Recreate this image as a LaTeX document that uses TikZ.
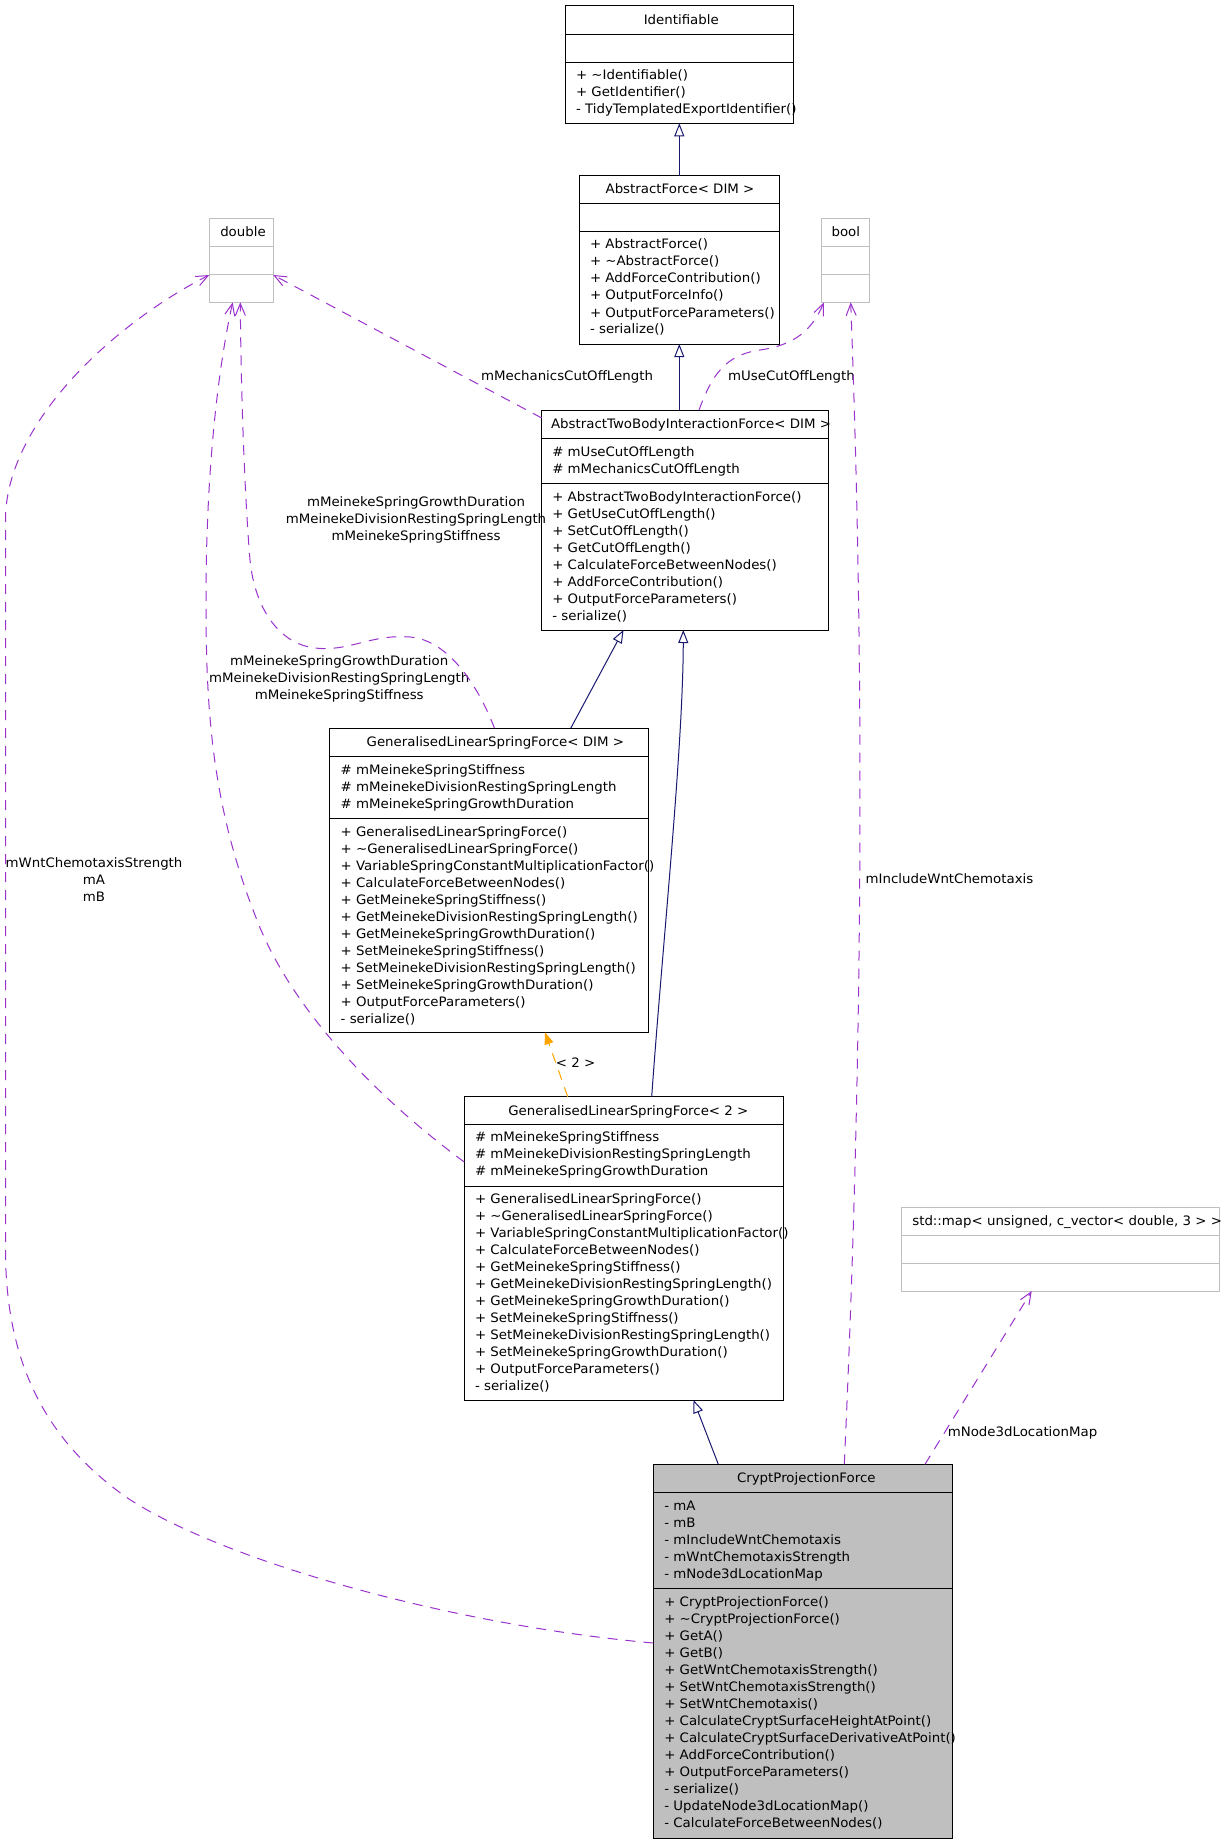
\documentclass[tikz,border=0pt]{standalone}
\usepackage{fontspec}
\setmainfont{DejaVu Sans}[FakeStretch=1.027]
\usetikzlibrary{arrows.meta}
\definecolor{navyc}{HTML}{191970}
\definecolor{purp}{HTML}{9A32CD}
\definecolor{orng}{HTML}{FFA500}
\definecolor{boxgray}{HTML}{BFBFBF}
\newcommand\fs{\fontsize{13}{17}\selectfont}
\newcommand\tld{\textasciitilde}
% name, x1, y1, x2, y2, divider1, divider2, style, divider colour
\newcommand\classbox[9]{%
  \node[#8, minimum width={#4pt-#2pt}, minimum height={#5pt-#3pt}] (#1) at (#2,#3) {};
  \draw[draw=#9, line width=1pt] (#2,#6) -- (#4,#6);
  \draw[draw=#9, line width=1pt] (#2,#7) -- (#4,#7);
}
% name, x, first baseline, list
\newcommand\linelist[4]{%
  \foreach \itm [count=\i] in {#4} {
    \node[txt, name=#1-\i] at (#2, {#3+17*(\i-1)}) {\itm};
  }
}
\begin{document}
\begin{tikzpicture}[x=1pt, y=-1pt,
  box/.style={draw=black, line width=1pt, inner sep=0pt, outer sep=0pt, anchor=north west},
  gbox/.style={draw=boxgray, line width=1pt, inner sep=0pt, outer sep=0pt, anchor=north west},
  cbox/.style={draw=black, fill=boxgray, line width=1pt, inner sep=0pt, outer sep=0pt, anchor=north west},
  txt/.style={inner sep=0pt, outer sep=0pt, font=\fs, anchor=base west},
  ttl/.style={inner sep=0pt, outer sep=0pt, font=\fs, anchor=base},
  lbl/.style={inner sep=0pt, outer sep=0pt, font=\fs, anchor=base},
  inh/.style={draw=navyc, line width=1pt, -{Triangle[open, length=13pt, width=10pt]}},
  dep/.style={draw=purp, line width=1pt, dash pattern=on 10pt off 8pt, -{Straight Barb[length=12pt, width=10pt]}},
  tpl/.style={draw=orng, line width=1pt, dash pattern=on 10pt off 8pt, -{Triangle[length=12pt, width=9pt]}}
]
\fill[white] (0,0) rectangle (1224,1843);
\useasboundingbox (0,0) rectangle (1224,1843);

% ---- class boxes ----
\classbox{ident}{565.3}{6}{793.3}{123.3}{34.3}{62.3}{box}{black}
\classbox{af}{579.3}{175.7}{779.3}{344}{203.3}{231.3}{box}{black}
\classbox{dbl}{209.3}{218.3}{273.3}{302.3}{246.3}{274.3}{gbox}{boxgray}
\classbox{bool}{821.3}{218.3}{869.5}{302.3}{246.3}{274.3}{gbox}{boxgray}
\classbox{atbif}{541.7}{410}{828.3}{630}{438.3}{483.3}{box}{black}
\classbox{glsfd}{329.3}{728.3}{648.3}{1032.3}{756.3}{818.7}{box}{black}
\classbox{glsf2}{464.3}{1096.7}{783.3}{1400}{1124.3}{1186.7}{box}{black}
\classbox{map}{901.3}{1207.3}{1219.3}{1291}{1235.3}{1263.3}{gbox}{boxgray}
\classbox{crypt}{653.3}{1464.3}{952.3}{1838.3}{1492.3}{1588}{cbox}{black}

% ---- texts ----
\node[ttl] (ident-t) at (681.3,24.5) {Identifiable};
\linelist{identm}{576}{79.5}{+ \tld Identifiable(), + GetIdentifier(), - TidyTemplatedExportIdentifier()}

\node[ttl] (af-t) at (680,193.8) {AbstractForce< DIM >};
\linelist{afm}{590}{249}{+ AbstractForce(), + \tld AbstractForce(), + AddForceContribution(), + OutputForceInfo(), + OutputForceParameters(), - serialize()}

\node[ttl] (dbl-t) at (243,236.6) {double};
\node[ttl] (bool-t) at (845.8,236.6) {bool};

\node[ttl] (atbif-t) at (691,428) {AbstractTwoBodyInteractionForce< DIM >};
\linelist{atbifa}{552.3}{456}{\# mUseCutOffLength, \# mMechanicsCutOffLength}
\linelist{atbifm}{552.3}{501}{+ AbstractTwoBodyInteractionForce(), + GetUseCutOffLength(), + SetCutOffLength(), + GetCutOffLength(), + CalculateForceBetweenNodes(), + AddForceContribution(), + OutputForceParameters(), - serialize()}

\node[ttl] (glsfd-t) at (495.3,746.4) {GeneralisedLinearSpringForce< DIM >};
\linelist{glsfda}{340.7}{774}{\# mMeinekeSpringStiffness, \# mMeinekeDivisionRestingSpringLength, \# mMeinekeSpringGrowthDuration}
\linelist{glsfdm}{340.7}{836.2}{+ GeneralisedLinearSpringForce(), + \tld GeneralisedLinearSpringForce(), + VariableSpringConstantMultiplicationFactor(), + CalculateForceBetweenNodes(), + GetMeinekeSpringStiffness(), + GetMeinekeDivisionRestingSpringLength(), + GetMeinekeSpringGrowthDuration(), + SetMeinekeSpringStiffness(), + SetMeinekeDivisionRestingSpringLength(), + SetMeinekeSpringGrowthDuration(), + OutputForceParameters(), - serialize()}

\node[ttl] (glsf2-t) at (628.3,1115) {GeneralisedLinearSpringForce< 2 >};
\linelist{glsf2a}{475}{1141.6}{\# mMeinekeSpringStiffness, \# mMeinekeDivisionRestingSpringLength, \# mMeinekeSpringGrowthDuration}
\linelist{glsf2m}{475}{1203.6}{+ GeneralisedLinearSpringForce(), + \tld GeneralisedLinearSpringForce(), + VariableSpringConstantMultiplicationFactor(), + CalculateForceBetweenNodes(), + GetMeinekeSpringStiffness(), + GetMeinekeDivisionRestingSpringLength(), + GetMeinekeSpringGrowthDuration(), + SetMeinekeSpringStiffness(), + SetMeinekeDivisionRestingSpringLength(), + SetMeinekeSpringGrowthDuration(), + OutputForceParameters(), - serialize()}

\node[txt] (map-t) at (912.3,1225.5) {std::map< unsigned, c\_vector< double, 3 > >};

\node[ttl] (crypt-t) at (806.3,1482.6) {CryptProjectionForce};
\linelist{crypta}{664.3}{1510}{- mA, - mB, - mIncludeWntChemotaxis, - mWntChemotaxisStrength, - mNode3dLocationMap}
\linelist{cryptm}{664.3}{1606.6}{+ CryptProjectionForce(), + \tld CryptProjectionForce(), + GetA(), + GetB(), + GetWntChemotaxisStrength(), + SetWntChemotaxisStrength(), + SetWntChemotaxis(), + CalculateCryptSurfaceHeightAtPoint(), + CalculateCryptSurfaceDerivativeAtPoint(), + AddForceContribution(), + OutputForceParameters(), - serialize(), - UpdateNode3dLocationMap(), - CalculateForceBetweenNodes()}

% ---- edge labels ----
\node[lbl] (l-mech) at (567,380) {mMechanicsCutOffLength};
\node[lbl] (l-use) at (791.5,380) {mUseCutOffLength};
\node[lbl] (l-inc) at (949.5,883.8) {mIncludeWntChemotaxis};
\node[lbl] (l-map) at (1022.5,1436) {mNode3dLocationMap};
\node[lbl] (l-two) at (575.6,1067.3) {< 2 >};
\node[lbl] (l-up1) at (416,506) {mMeinekeSpringGrowthDuration};
\node[lbl] (l-up2) at (416,523) {mMeinekeDivisionRestingSpringLength};
\node[lbl] (l-up3) at (416,540) {mMeinekeSpringStiffness};
\node[lbl] (l-lo1) at (339.2,665) {mMeinekeSpringGrowthDuration};
\node[lbl] (l-lo2) at (339.2,682) {mMeinekeDivisionRestingSpringLength};
\node[lbl] (l-lo3) at (339.2,699) {mMeinekeSpringStiffness};
\node[lbl] (l-wnt1) at (94,867) {mWntChemotaxisStrength};
\node[lbl] (l-wnt2) at (94,884) {mA};
\node[lbl] (l-wnt3) at (94,901) {mB};

% ---- inheritance ----
\draw[inh] (af.north) -- (ident.south);
\draw[inh] (af.south |- atbif.north) -- (af.south);
\draw[inh] ([xshift=81.9pt]glsfd.north) -- ([xshift=-61.5pt]atbif.south);
\draw[inh] ([xshift=27.9pt]glsf2.north) .. controls (662,950) and (683,750) .. ([xshift=-1.7pt]atbif.south);
\draw[inh] ([xshift=-84.5pt]crypt.north) -- ([xshift=69.7pt]glsf2.south);

% ---- template instance ----
\draw[tpl] ([xshift=-56.1pt]glsf2.north) -- ([xshift=56.2pt]glsfd.south);

% ---- usage ----
\draw[dep] ([yshift=-8pt]atbif.north west) -- ([yshift=-14.7pt]dbl.east);
\draw[dep] ([xshift=14pt]atbif.north) .. controls (712,375) and (725,355) .. (760,350)
  .. controls (795,345) and (812,330) .. ([xshift=-21.4pt]bool.south);
\draw[dep] ([xshift=41.5pt]crypt.north) .. controls (870,900) and (858,500) .. ([xshift=5.3pt]bool.south);
\draw[dep] ([xshift=5.7pt]glsfd.north) .. controls (480,690) and (450,640) .. (410,637)
  .. controls (370,634) and (350,652) .. (315,648)
  .. controls (280,644) and (255,610) .. (250,560)
  .. controls (245,500) and (241,400) .. ([xshift=-1pt]dbl.south);
\draw[dep] ([yshift=86.35pt]glsf2.west) .. controls (380,1100) and (290,1010) .. (255,915)
  .. controls (210,800) and (206,700) .. (206,600)
  .. controls (206,450) and (222,350) .. ([xshift=-8.6pt]dbl.south);
\draw[dep] ([yshift=8.3pt]crypt.west) .. controls (450,1625) and (220,1560) .. (126,1497)
  .. controls (60,1450) and (5.5,1380) .. (5.5,1250) -- (5.5,520)
  .. controls (5.5,420) and (120,320) .. ([yshift=-14.7pt]dbl.west);
\draw[dep] ([xshift=122.2pt]crypt.north) -- ([xshift=-28.6pt]map.south);
\end{tikzpicture}
\end{document}
